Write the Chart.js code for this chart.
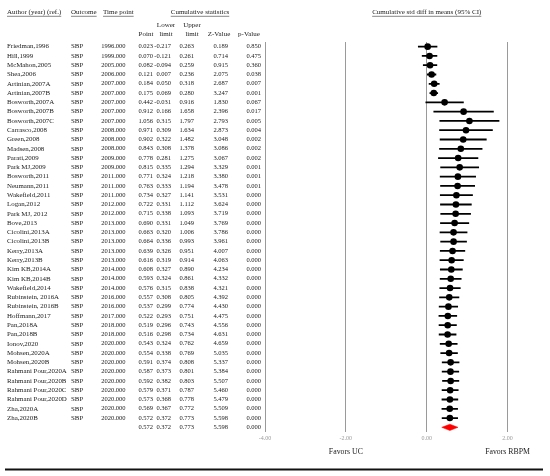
<!DOCTYPE html>
<html>
<head>
<meta charset="utf-8">
<script src="https://cdn.jsdelivr.net/npm/chart.js@4.4.1/dist/chart.umd.min.js"></script>
<style>
  html, body { margin: 0; padding: 0; background: #fff; }
  #wrap { width: 550px; height: 476px; overflow: hidden; }
</style>
</head>
<body>
<div id="wrap"><canvas id="forest" width="550" height="476"></canvas></div>
<script>
// study rows (cumulative meta-analysis, outcome SBP)
const authors = ['Friedman,1996', 'Hill,1999', 'McMahon,2005', 'Shea,2006', 'Artinian,2007A', 'Artinian,2007B',
  'Bosworth,2007A', 'Bosworth,2007B', 'Bosworth,2007C', 'Carrasco,2008', 'Green,2008', 'Madsen,2008',
  'Parati,2009', 'Park MJ,2009', 'Bosworth,2011', 'Neumann,2011', 'Wakefield,2011', 'Logan,2012',
  'Park MJ, 2012', 'Bove,2013', 'Cicolini,2013A', 'Cicolini,2013B', 'Kerry,2013A', 'Kerry,2013B',
  'Kim KB,2014A', 'Kim KB,2014B', 'Wakefield,2014', 'Rubinstein, 2016A', 'Rubinstein, 2016B', 'Hoffmann,2017',
  'Pan,2018A', 'Pan,2018B', 'Ionov,2020', 'Mohsen,2020A', 'Mohsen,2020B', 'Rahmani Pour,2020A',
  'Rahmani Pour,2020B', 'Rahmani Pour,2020C', 'Rahmani Pour,2020D', 'Zha,2020A', 'Zha,2020B'];
const outcome = 'SBP';
const timePoint = [1996, 1999, 2005, 2006, 2007, 2007, 2007, 2007, 2007, 2008, 2008, 2008, 2009, 2009, 2011, 2011,
  2011, 2012, 2012, 2013, 2013, 2013, 2013, 2013, 2014, 2014, 2014, 2016, 2016, 2017, 2018, 2018, 2020, 2020,
  2020, 2020, 2020, 2020, 2020, 2020, 2020];
const pointEst = [0.023, 0.070, 0.082, 0.121, 0.184, 0.175, 0.442, 0.912, 1.056, 0.971, 0.902, 0.843, 0.778, 0.815,
  0.771, 0.763, 0.734, 0.722, 0.715, 0.690, 0.663, 0.664, 0.639, 0.616, 0.608, 0.593, 0.576, 0.557, 0.537, 0.522,
  0.519, 0.516, 0.543, 0.554, 0.591, 0.587, 0.592, 0.579, 0.573, 0.569, 0.572];
const lowerLimit = [-0.217, -0.121, -0.094, 0.007, 0.050, 0.069, -0.031, 0.166, 0.315, 0.309, 0.322, 0.308, 0.281,
  0.335, 0.324, 0.333, 0.327, 0.331, 0.338, 0.331, 0.320, 0.336, 0.326, 0.319, 0.327, 0.324, 0.315, 0.308, 0.299,
  0.293, 0.296, 0.298, 0.324, 0.338, 0.374, 0.373, 0.382, 0.371, 0.368, 0.367, 0.372];
const upperLimit = [0.263, 0.261, 0.259, 0.236, 0.318, 0.280, 0.916, 1.658, 1.797, 1.634, 1.482, 1.378, 1.275,
  1.294, 1.218, 1.194, 1.141, 1.112, 1.093, 1.049, 1.006, 0.993, 0.951, 0.914, 0.890, 0.861, 0.838, 0.805, 0.774,
  0.751, 0.743, 0.734, 0.762, 0.769, 0.808, 0.801, 0.803, 0.787, 0.778, 0.772, 0.773];
const zValue = [0.189, 0.714, 0.915, 2.075, 2.687, 3.247, 1.830, 2.396, 2.793, 2.873, 3.048, 3.086, 3.067, 3.329,
  3.380, 3.478, 3.531, 3.624, 3.719, 3.769, 3.786, 3.961, 4.007, 4.063, 4.234, 4.332, 4.321, 4.392, 4.430, 4.475,
  4.556, 4.631, 4.659, 5.035, 5.337, 5.384, 5.507, 5.460, 5.479, 5.509, 5.598];
const pValue = [0.850, 0.475, 0.360, 0.038, 0.007, 0.001, 0.067, 0.017, 0.005, 0.004, 0.002, 0.002, 0.002, 0.001,
  0.001, 0.001, 0.000, 0.000, 0.000, 0.000, 0.000, 0.000, 0.000, 0.000, 0.000, 0.000, 0.000, 0.000, 0.000, 0.000,
  0.000, 0.000, 0.000, 0.000, 0.000, 0.000, 0.000, 0.000, 0.000, 0.000, 0.000];

// overall (last cumulative step)
const summary = { point: 0.572, lower: 0.372, upper: 0.773, z: 5.598, p: 0.000 };

const xTicks = [-4, -2, 0, 2];
const favorsLeft = 'Favors UC';
const favorsRight = 'Favors RBPM';

const SERIF = "'Liberation Serif', 'Times New Roman', serif";
const nRows = authors.length + 1;

// whiskers as one broken line
const whiskerData = [];
authors.forEach((a, i) => {
  whiskerData.push({ x: lowerLimit[i], y: i }, { x: upperLimit[i], y: i }, { x: null, y: null });
});
const pointData = pointEst.map((v, i) => ({ x: v, y: i }));
const s = authors.length;
const dh = 0.34;
const diamondData = [
  { x: summary.lower, y: s }, { x: summary.point, y: s - dh }, { x: summary.upper, y: s },
  { x: summary.point, y: s + dh }, { x: summary.lower, y: s }
];

function underlined(ctx, text, x, y, align) {
  ctx.textAlign = align;
  ctx.fillText(text, x, y);
  const w = ctx.measureText(text).width;
  const x0 = align === 'center' ? x - w / 2 : (align === 'right' ? x - w : x);
  ctx.beginPath();
  ctx.moveTo(x0, y + 4.3);
  ctx.lineTo(x0 + w, y + 4.3);
  ctx.lineWidth = 0.6;
  ctx.strokeStyle = '#333';
  ctx.stroke();
}

const tablePlugin = {
  id: 'forestTable',
  afterDraw(chart) {
    const ctx = chart.ctx;
    const ys = chart.scales.y;
    const xs = chart.scales.x;
    ctx.save();
    ctx.fillStyle = '#1a1a1a';
    ctx.textBaseline = 'middle';

    // headers
    ctx.font = `7px ${SERIF}`;
    underlined(ctx, 'Author (year) (ref.)', 7, 12, 'left');
    underlined(ctx, 'Outcome', 71, 12, 'left');
    underlined(ctx, 'Time point', 103, 12, 'left');
    underlined(ctx, 'Cumulative statistics', 200, 12, 'center');
    underlined(ctx, 'Cumulative std diff in means (95% CI)', xs.getPixelForValue(0), 12, 'center');
    ctx.textAlign = 'center';
    ctx.fillText('Point', 146, 34);
    ctx.fillText('Lower', 166, 25);
    ctx.fillText('limit', 166, 34);
    ctx.fillText('Upper', 192, 25);
    ctx.fillText('limit', 192, 34);
    ctx.fillText('Z-Value', 219, 34);
    ctx.fillText('p-Value', 249, 34);

    // rows
    const rights = [125.5, 153, 171, 194, 228, 261];
    for (let i = 0; i < nRows; i++) {
      const y = ys.getPixelForValue(i);
      const last = i === authors.length;
      const vals = last
        ? [null, summary.point, summary.lower, summary.upper, summary.z, summary.p]
        : [timePoint[i], pointEst[i], lowerLimit[i], upperLimit[i], zValue[i], pValue[i]];
      if (!last) {
        ctx.font = `6.9px ${SERIF}`;
        ctx.textAlign = 'left';
        ctx.fillText(authors[i], 7, y);
        ctx.fillText(outcome, 71, y);
      }
      ctx.font = `6.5px ${SERIF}`;
      ctx.textAlign = 'right';
      vals.forEach((v, k) => {
        if (v !== null) ctx.fillText(v.toFixed(3), rights[k], y);
      });
    }

    // favors labels
    ctx.font = `7.8px ${SERIF}`;
    ctx.textAlign = 'center';
    ctx.fillText(favorsLeft, xs.getPixelForValue(-2), 452);
    ctx.fillText(favorsRight, xs.getPixelForValue(2), 452);

    // bottom rule
    ctx.beginPath();
    ctx.moveTo(5, 469.5);
    ctx.lineTo(543, 469.5);
    ctx.lineWidth = 1.8;
    ctx.strokeStyle = '#111';
    ctx.stroke();
    ctx.restore();
  }
};

const ctx = document.getElementById('forest').getContext('2d');
new Chart(ctx, {
  type: 'scatter',
  data: {
    datasets: [
      {
        data: whiskerData,
        showLine: true,
        spanGaps: false,
        borderColor: '#000',
        borderWidth: 1.8,
        pointRadius: 0
      },
      {
        data: pointData,
        backgroundColor: '#000',
        borderColor: '#000',
        pointRadius: 3.3,
        borderWidth: 0
      },
      {
        data: diamondData,
        showLine: true,
        fill: 'shape',
        backgroundColor: '#ff0000',
        borderColor: '#ff0000',
        borderWidth: 0.5,
        pointRadius: 0,
        tension: 0
      }
    ]
  },
  options: {
    responsive: false,
    animation: false,
    layout: { padding: { left: 265, right: 0, top: 42, bottom: 30 } },
    scales: {
      x: {
        type: 'linear',
        min: -4,
        max: 2.95,
        afterBuildTicks: (axis) => { axis.ticks = xTicks.map(v => ({ value: v })); },
        afterFit: (axis) => { axis.height = 14; },
        ticks: {
          callback: (v) => Number(v).toFixed(2),
          color: '#9a9a9a',
          font: { family: SERIF, size: 6 },
          padding: 3,
          maxRotation: 0,
          autoSkip: false
        },
        grid: { color: '#9a9a9a', lineWidth: 1, drawTicks: false },
        border: { display: false }
      },
      y: {
        type: 'linear',
        min: -0.5,
        max: nRows - 0.5,
        reverse: true,
        display: false
      }
    },
    plugins: {
      legend: { display: false },
      tooltip: { enabled: false }
    }
  },
  plugins: [tablePlugin]
});
</script>
</body>
</html>
